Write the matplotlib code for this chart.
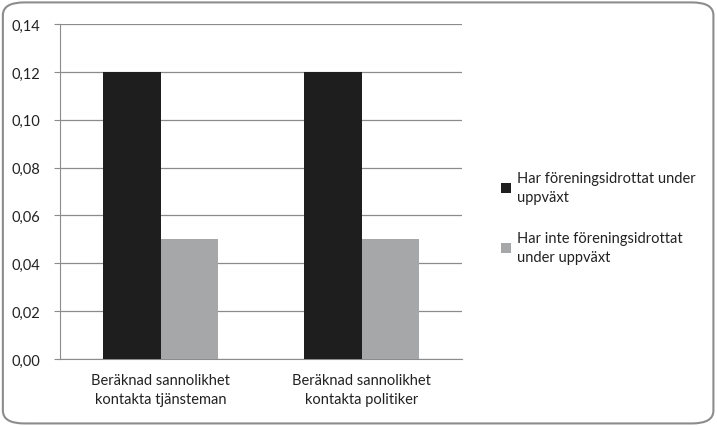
import numpy as np
import matplotlib.pyplot as plt
from matplotlib.patches import FancyBboxPatch

# Data
categories = ["Beräknad sannolikhet\nkontakta tjänsteman",
              "Beräknad sannolikhet\nkontakta politiker"]
series_names = ["Har föreningsidrottat under\nuppväxt",
                "Har inte föreningsidrottat\nunder uppväxt"]
har_idrott = [0.12, 0.12]
inte_idrott = [0.05, 0.05]
yticks = [0.00, 0.02, 0.04, 0.06, 0.08, 0.10, 0.12, 0.14]

plt.rcParams['font.family'] = ['Lato', 'DejaVu Sans']

fig = plt.figure(figsize=(7.17, 4.27), dpi=100)
ax = fig.add_axes([0.0837, 0.157, 0.5607, 0.784])

# rounded outer frame
frame = FancyBboxPatch((0.004, 0.006), 0.991, 0.986,
                       boxstyle="round,pad=0,rounding_size=0.03",
                       transform=fig.transFigure, facecolor='white',
                       edgecolor='#8c8c8c', linewidth=1.5, zorder=-10)
fig.patches.append(frame)

x = np.arange(len(categories))
w = 0.285
ax.bar(x - w / 2, har_idrott, w, color='#1e1e1e', label=series_names[0], zorder=3)
ax.bar(x + w / 2, inte_idrott, w, color='#a6a7a8', label=series_names[1], zorder=3)

ax.set_xlim(-0.5, 1.5)
ax.set_ylim(0, 0.14)
ax.set_yticks(yticks)
ax.set_yticklabels([f"{v:.2f}".replace('.', ',') for v in yticks], fontsize=10.5, color='#222222')
ax.set_xticks(x)
ax.set_xticklabels(categories, fontsize=10.5, color='#222222', linespacing=1.45)
ax.tick_params(axis='x', length=0, pad=10)
ax.tick_params(axis='y', length=4, color='#8c8c8c', pad=10)
ax.yaxis.grid(True, color='#8c8c8c', linewidth=0.9, zorder=0)
ax.set_axisbelow(True)
for s in ['top', 'right']:
    ax.spines[s].set_visible(False)
for s in ['left', 'bottom']:
    ax.spines[s].set_color('#8c8c8c')
ax.patch.set_alpha(0)

leg = fig.legend(loc='upper left', bbox_to_anchor=(0.68, 0.628), frameon=False,
                 fontsize=10.5, handlelength=0.7, handleheight=0.7, handletextpad=0.4,
                 labelspacing=1.85, labelcolor='#222222')
for t in leg.get_texts():
    t.set_linespacing(1.45)

plt.savefig('out.png', dpi=100)
